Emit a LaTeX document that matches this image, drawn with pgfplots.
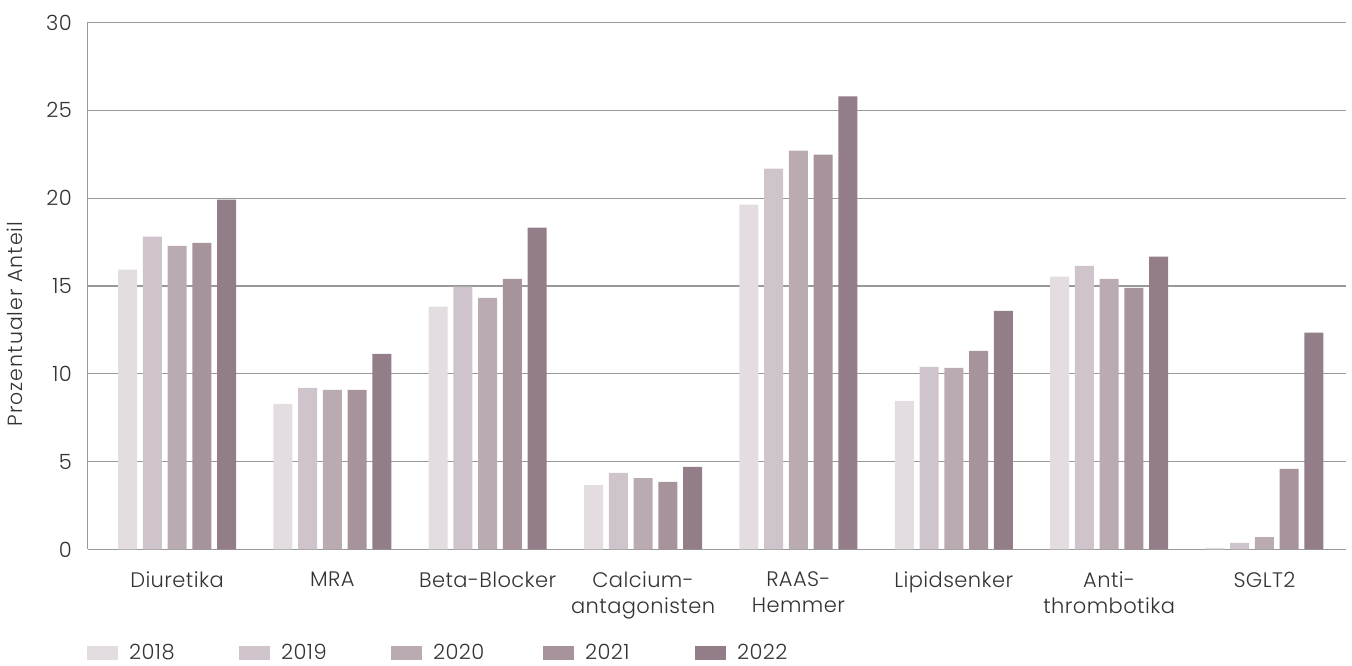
\documentclass[border=0pt]{standalone}
\usepackage{pgfplots}
\pgfplotsset{compat=1.18}
\usepackage{fontspec}
\setmainfont{Poppins Light}[LetterSpace=2]
\definecolor{c18}{HTML}{E3DDE1}
\definecolor{c19}{HTML}{CFC4CB}
\definecolor{c20}{HTML}{BAAAB2}
\definecolor{c21}{HTML}{A6939C}
\definecolor{c22}{HTML}{927D89}
\definecolor{txt}{HTML}{333333}
\definecolor{gridc}{HTML}{999999}
\begin{document}
\begin{tikzpicture}
\useasboundingbox (-88pt,-116.5pt) rectangle (1264pt,549.5pt);
\begin{axis}[
  at={(0pt,0pt)}, anchor=south west,
  scale only axis, width=1258pt, height=527pt,
  ybar, bar width=19pt,
  xmin=-0.573, xmax=7.525, ymin=0, ymax=30,
  xtick={0,...,7},
  xticklabels={Diuretika, MRA, Beta-Blocker, {Calcium-\\antagonisten}, {RAAS-\\Hemmer}, Lipidsenker, {Anti-\\thrombotika}, SGLT2},
  ytick={0,5,...,30},
  axis lines*=left,
  axis line style={draw=gridc, line width=1pt, -},
  major tick length=0pt,
  ymajorgrids, grid style={draw=gridc, line width=1.2pt},
  /pgf/number format/assume math mode=true,
  tick label style={font=\fontsize{21pt}{26pt}\selectfont, text=txt},
  yticklabel style={anchor=east, inner sep=0pt, xshift=-16pt},
  xticklabel style={anchor=north, align=center, inner sep=0pt, yshift=-22pt},
  ylabel={Prozentualer Anteil},
  every axis y label/.style={at={(rel axis cs:0,0.428)}, xshift=-73pt, rotate=90, anchor=center, font=\fontsize{20.5pt}{24pt}\selectfont\addfontfeature{LetterSpace=5}, text=txt},
  legend columns=5,
  legend style={at={(rel axis cs:0,0)}, anchor=west, xshift=-1pt, yshift=-103.5pt, draw=none, fill=none, inner sep=0pt,
    font=\fontsize{21pt}{26pt}\selectfont, text=txt,
    nodes={inner sep=0pt, anchor=west, text width=52pt},
    /tikz/every odd column/.append style={column sep=11pt},
    /tikz/every even column/.append style={column sep=58pt}},
  legend image code/.code={\fill[#1,draw=none] (0pt,-7pt) rectangle (31pt,7pt);},
]
\addplot[fill=c18, draw=none, bar shift=-49.5pt] coordinates {(0,15.93) (1,8.29) (2,13.82) (3,3.67) (4,19.63) (5,8.46) (6,15.53) (7,0.09)};
\addplot[fill=c19, draw=none, bar shift=-24.75pt] coordinates {(0,17.81) (1,9.20) (2,14.96) (3,4.36) (4,21.68) (5,10.40) (6,16.15) (7,0.37)};
\addplot[fill=c20, draw=none, bar shift=0pt] coordinates {(0,17.29) (1,9.09) (2,14.33) (3,4.07) (4,22.71) (5,10.34) (6,15.41) (7,0.71)};
\addplot[fill=c21, draw=none, bar shift=24.75pt] coordinates {(0,17.46) (1,9.09) (2,15.41) (3,3.85) (4,22.48) (5,11.31) (6,14.90) (7,4.59)};
\addplot[fill=c22, draw=none, bar shift=49.5pt] coordinates {(0,19.91) (1,11.14) (2,18.32) (3,4.70) (4,25.80) (5,13.59) (6,16.67) (7,12.34)};
\legend{2018,2019,2020,2021,2022}
\end{axis}
\end{tikzpicture}
\end{document}
